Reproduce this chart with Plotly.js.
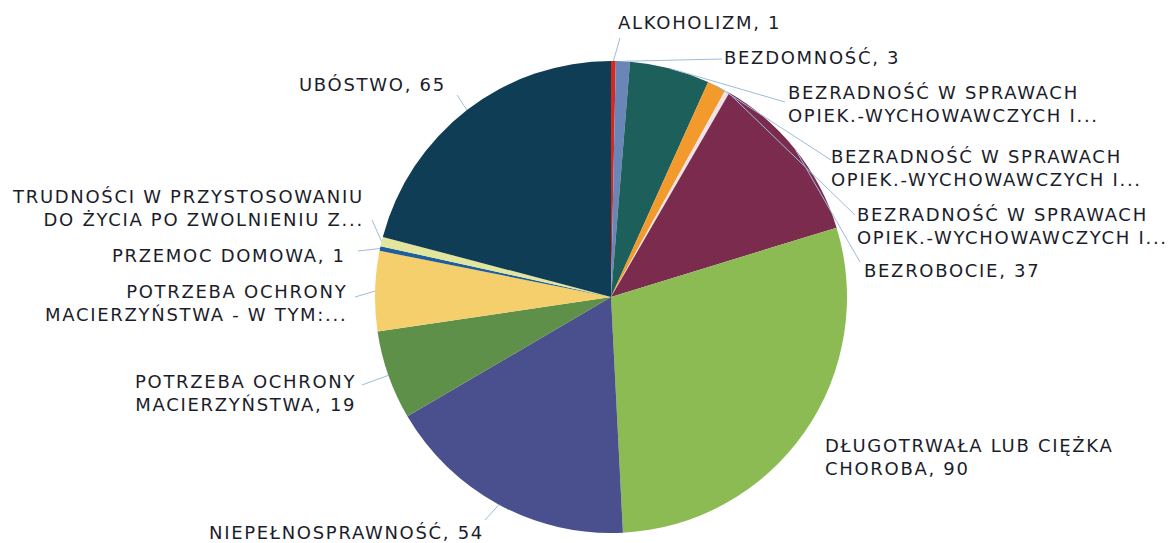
<!DOCTYPE html>
<html>
<head>
<meta charset="utf-8">
<script src="https://cdn.plot.ly/plotly-3.0.1.min.js"></script>
<style>html,body{margin:0;padding:0;background:#fff;}#chart{width:1170px;height:543px;}
text.annotation-text{letter-spacing:1.7px;}</style>
</head>
<body>
<div id="chart"></div>
<script>
// ---- data ----
const categories = [
  "ALKOHOLIZM",
  "BEZDOMNOŚĆ",
  "BEZRADNOŚĆ W SPRAWACH OPIEK.-WYCHOWAWCZYCH I PROWADZENIA GOSPODARSTWA DOMOWEGO - OGÓŁEM",
  "BEZRADNOŚĆ W SPRAWACH OPIEK.-WYCHOWAWCZYCH I PROWADZENIA GOSPODARSTWA DOMOWEGO - RODZINY NIEPEŁNE",
  "BEZRADNOŚĆ W SPRAWACH OPIEK.-WYCHOWAWCZYCH I PROWADZENIA GOSPODARSTWA DOMOWEGO - RODZINY WIELODZIETNE",
  "BEZROBOCIE",
  "DŁUGOTRWAŁA LUB CIĘŻKA CHOROBA",
  "NIEPEŁNOSPRAWNOŚĆ",
  "POTRZEBA OCHRONY MACIERZYŃSTWA",
  "POTRZEBA OCHRONY MACIERZYŃSTWA - W TYM: WIELODZIETNOŚĆ",
  "PRZEMOC DOMOWA",
  "TRUDNOŚCI W PRZYSTOSOWANIU DO ŻYCIA PO ZWOLNIENIU Z ZAKŁADU KARNEGO",
  "UBÓSTWO"
];
const values = [1, 3, 17, 4, 1, 37, 90, 54, 19, 17, 1, 2, 65];
const shownLabels = [
  "ALKOHOLIZM",
  "BEZDOMNOŚĆ",
  "BEZRADNOŚĆ W SPRAWACH<br>OPIEK.-WYCHOWAWCZYCH I...",
  "BEZRADNOŚĆ W SPRAWACH<br>OPIEK.-WYCHOWAWCZYCH I...",
  "BEZRADNOŚĆ W SPRAWACH<br>OPIEK.-WYCHOWAWCZYCH I...",
  "BEZROBOCIE",
  "DŁUGOTRWAŁA LUB CIĘŻKA<br>CHOROBA",
  "NIEPEŁNOSPRAWNOŚĆ",
  "POTRZEBA OCHRONY<br>MACIERZYŃSTWA",
  "POTRZEBA OCHRONY<br>MACIERZYŃSTWA - W TYM:...",
  "PRZEMOC DOMOWA",
  "TRUDNOŚCI W PRZYSTOSOWANIU<br>DO ŻYCIA PO ZWOLNIENIU Z...",
  "UBÓSTWO"
];
const truncated = [false, false, true, true, true, false, false, false, false, true, false, true, false];
const sliceColors = ["#d5281f", "#6a86b9", "#1d5f5a", "#f29a2c", "#efe2e6", "#7b2b4e", "#8cbb53", "#4a4f8d", "#5f9049", "#f4cf6b", "#1d5e9b", "#e4e59c", "#0f3d55"];

// ---- layout constants (pixels) ----
const W = 1170, H = 543;
const CX = 611, CY = 297, R = 236;
const labelPos = [
  [616, 22, "left"], [722, 58, "left"], [786, 104, "left"], [829, 168, "left"],
  [855, 226, "left"], [862, 270, "left"], [823, 457, "left"], [486, 532, "right"],
  [358, 393, "right"], [349, 303, "right"], [348, 255, "right"], [366, 208, "right"],
  [448, 85, "right"]
];
const leaderEnd = [
  [620, 38], [722, 59], [785, 102], [831, 160], [855, 215], [860, 262], null,
  [485, 520], [362, 385], [355, 297], [358, 251], [372, 220], [457, 95]
];

const px = x => x / W;
const py = y => 1 - y / H;

const total = values.reduce((a, b) => a + b, 0);
let cum = 0;
const annotations = [];
const shapes = [];
values.forEach((v, i) => {
  const mid = (cum + v / 2) / total * 2 * Math.PI;
  cum += v;
  const tx = CX + R * Math.sin(mid);
  const ty = CY - R * Math.cos(mid);
  const p = labelPos[i];
  annotations.push({
    x: px(p[0]), y: py(p[1]), xref: "paper", yref: "paper",
    xanchor: p[2], yanchor: "middle", align: p[2],
    text: truncated[i] ? shownLabels[i] : shownLabels[i] + ", " + v,
    showarrow: false,
    font: {family: "DejaVu Sans, sans-serif", size: 18, color: "#1b1d2b"}
  });
  const e = leaderEnd[i];
  if (e) {
    shapes.push({
      type: "line", xref: "paper", yref: "paper", layer: "above",
      x0: px(tx), y0: py(ty), x1: px(e[0]), y1: py(e[1]),
      line: {color: "#9dbcdb", width: 1}
    });
  }
});

const trace = {
  type: "pie",
  labels: categories,
  values: values,
  sort: false,
  direction: "clockwise",
  rotation: 0,
  textinfo: "none",
  hoverinfo: "label+value",
  marker: {colors: sliceColors, line: {width: 0}},
  domain: {x: [px(CX - R), px(CX + R)], y: [py(CY + R), py(CY - R)]}
};

Plotly.newPlot("chart", [trace], {
  width: W, height: H,
  margin: {l: 0, r: 0, t: 0, b: 0},
  showlegend: false,
  paper_bgcolor: "#ffffff",
  annotations: annotations,
  shapes: shapes
}, {displayModeBar: false, staticPlot: true});
</script>
</body>
</html>
